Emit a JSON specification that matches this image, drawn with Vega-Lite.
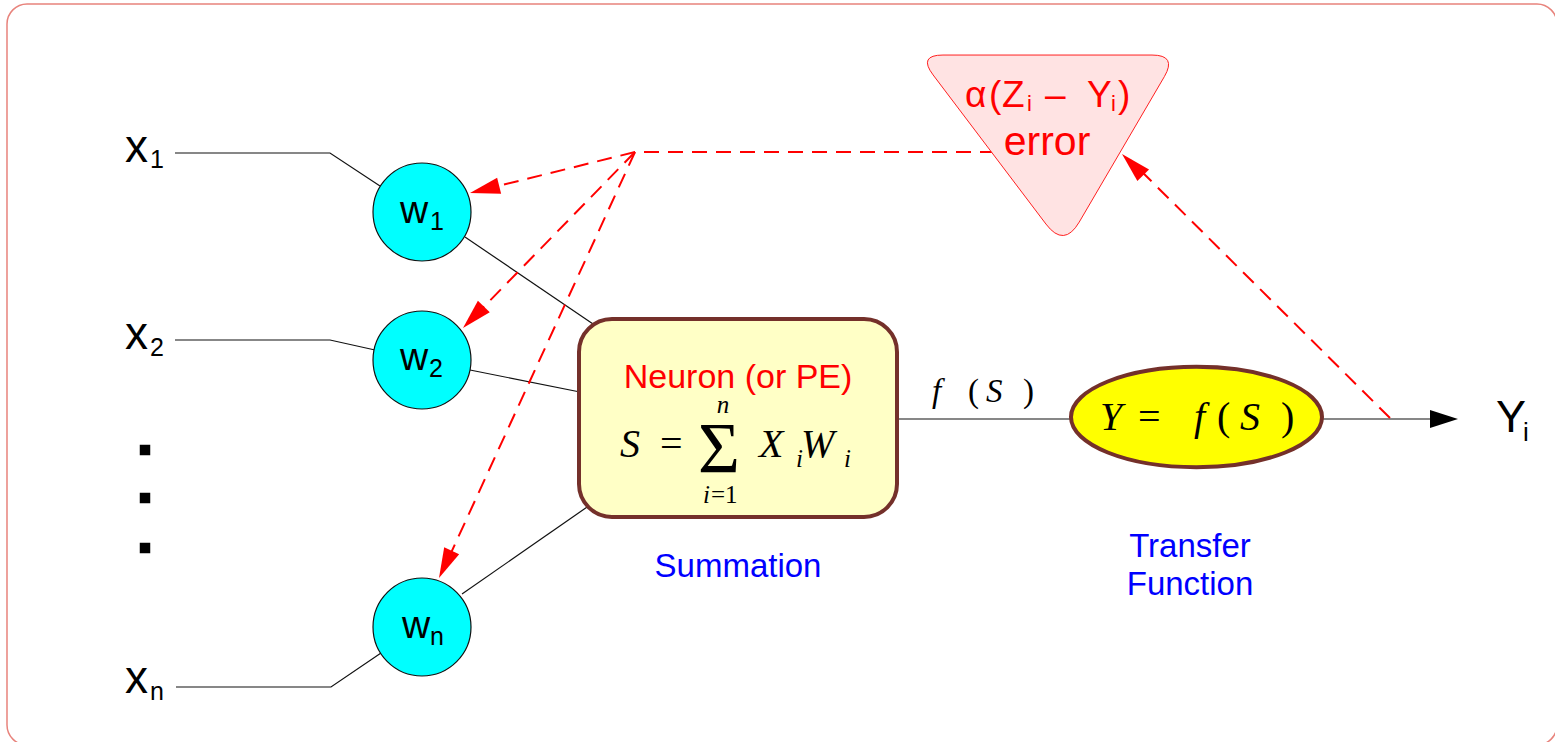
{
  "$schema": "https://vega.github.io/schema/vega-lite/v6.json",
  "width": 1555,
  "height": 742,
  "autosize": "none",
  "padding": 0,
  "background": "white",
  "config": {"view": {"stroke": null}},
  "datasets": {
    "frame": [{"x": 7, "x2": 1557, "y": 4, "y2": 745}],
    "box": [{"x": 579, "x2": 897, "y": 319, "y2": 517}],
    "wires": [
      {"s": "x1", "o": 1, "x": 175, "y": 153}, {"s": "x1", "o": 2, "x": 330, "y": 153}, {"s": "x1", "o": 3, "x": 380, "y": 186},
      {"s": "x2", "o": 1, "x": 175, "y": 340}, {"s": "x2", "o": 2, "x": 330, "y": 340}, {"s": "x2", "o": 3, "x": 375, "y": 350},
      {"s": "xn", "o": 1, "x": 176, "y": 687}, {"s": "xn", "o": 2, "x": 331, "y": 687}, {"s": "xn", "o": 3, "x": 381, "y": 653},
      {"s": "w1", "o": 1, "x": 465, "y": 237}, {"s": "w1", "o": 2, "x": 596, "y": 326},
      {"s": "w2", "o": 1, "x": 470, "y": 370}, {"s": "w2", "o": 2, "x": 580, "y": 392},
      {"s": "wn", "o": 1, "x": 462, "y": 594}, {"s": "wn", "o": 2, "x": 590, "y": 505},
      {"s": "sf", "o": 1, "x": 898, "y": 419}, {"s": "sf", "o": 2, "x": 1072, "y": 419},
      {"s": "out", "o": 1, "x": 1321, "y": 419}, {"s": "out", "o": 2, "x": 1435, "y": 419}
    ],
    "dashes": [
      {"s": "h", "o": 1, "x": 995, "y": 152}, {"s": "h", "o": 2, "x": 635, "y": 152},
      {"s": "a1", "o": 1, "x": 635, "y": 152}, {"s": "a1", "o": 2, "x": 478, "y": 191},
      {"s": "a2", "o": 1, "x": 635, "y": 152}, {"s": "a2", "o": 2, "x": 470, "y": 321},
      {"s": "a3", "o": 1, "x": 635, "y": 152}, {"s": "a3", "o": 2, "x": 445, "y": 566},
      {"s": "e", "o": 1, "x": 1390, "y": 418}, {"s": "e", "o": 2, "x": 1130, "y": 160}
    ],
    "dots": [{"x": 145, "y": 450}, {"x": 145, "y": 498}, {"x": 145, "y": 548}],
    "neurons": [{"n": "w1", "x": 422, "y": 212}, {"n": "w2", "x": 422, "y": 360}, {"n": "wn", "x": 422, "y": 627}],
    "ellipse": [{"x": 1196.5, "y": 417}],
    "triangle": [{"x": 1047.5, "y": 151.5}],
    "tips": [
      {"t": "w1", "x": 470, "y": 193},
      {"t": "w2", "x": 463, "y": 328},
      {"t": "wn", "x": 439, "y": 578},
      {"t": "err", "x": 1122, "y": 154},
      {"t": "out", "x": 1458, "y": 419}
    ],
    "texts": [
      {"g": "sans46", "label": "x", "x": 125, "y": 162},
      {"g": "sans46", "label": "x", "x": 125, "y": 349},
      {"g": "sans46", "label": "x", "x": 125, "y": 693},
      {"g": "sans24", "label": "1", "x": 150, "y": 168},
      {"g": "sans24", "label": "2", "x": 150, "y": 356},
      {"g": "sans24", "label": "n", "x": 150, "y": 700},
      {"g": "w40", "label": "w", "x": 400, "y": 223},
      {"g": "w40", "label": "w", "x": 400, "y": 370},
      {"g": "w40", "label": "w", "x": 402, "y": 638},
      {"g": "wsub", "label": "1", "x": 430, "y": 230},
      {"g": "wsub", "label": "2", "x": 429, "y": 377},
      {"g": "wsub", "label": "n", "x": 430, "y": 645},
      {"g": "Y45", "label": "Y", "x": 1496, "y": 432},
      {"g": "Ysub", "label": "i", "x": 1523, "y": 441},
      {"g": "red34c", "label": "Neuron (or PE)", "x": 738, "y": 388},
      {"g": "blue33c", "label": "Summation", "x": 738, "y": 577},
      {"g": "blue33c", "label": "Transfer", "x": 1190, "y": 557},
      {"g": "blue33c", "label": "Function", "x": 1190, "y": 595},
      {"g": "red41c", "label": "error", "x": 1047, "y": 155},
      {"g": "red34", "label": "α", "x": 965, "y": 107},
      {"g": "red34", "label": "(", "x": 989, "y": 107},
      {"g": "red34", "label": "Z", "x": 1002, "y": 107},
      {"g": "red34", "label": "–", "x": 1045, "y": 107},
      {"g": "red34", "label": "Y", "x": 1087, "y": 107},
      {"g": "red34", "label": ")", "x": 1118, "y": 107},
      {"g": "red18", "label": "i", "x": 1027, "y": 111},
      {"g": "red18", "label": "i", "x": 1111, "y": 111},
      {"g": "serifI40", "label": "S", "x": 620, "y": 457},
      {"g": "serifI40", "label": "X", "x": 759, "y": 457},
      {"g": "serifI40", "label": "W", "x": 801, "y": 457},
      {"g": "serifI40", "label": "Y", "x": 1100, "y": 430},
      {"g": "serifI40", "label": "f", "x": 1194, "y": 430},
      {"g": "serifI40", "label": "S", "x": 1240, "y": 430},
      {"g": "serif40", "label": "=", "x": 660, "y": 457},
      {"g": "serif40", "label": "=", "x": 1138, "y": 430},
      {"g": "serif40", "label": "(", "x": 1217, "y": 430},
      {"g": "serif40", "label": ")", "x": 1281, "y": 430},
      {"g": "sigma", "label": "Σ", "x": 719, "y": 472},
      {"g": "serifI24c", "label": "n", "x": 723, "y": 413},
      {"g": "serifI24", "label": "i", "x": 703, "y": 503},
      {"g": "serif24", "label": "=1", "x": 711, "y": 503},
      {"g": "serifI24", "label": "i", "x": 796, "y": 467},
      {"g": "serifI24", "label": "i", "x": 844, "y": 467},
      {"g": "serifI33", "label": "f", "x": 932, "y": 402},
      {"g": "serifI33", "label": "S", "x": 986, "y": 402},
      {"g": "serif33", "label": "(", "x": 968, "y": 402},
      {"g": "serif33", "label": ")", "x": 1023, "y": 402}
    ]
  },
  "encoding": {
    "x": {"field": "x", "type": "quantitative", "scale": {"domain": [0, 1555], "nice": false, "zero": false}, "axis": null},
    "y": {"field": "y", "type": "quantitative", "scale": {"domain": [0, 742], "nice": false, "zero": false, "reverse": true}, "axis": null}
  },
  "layer": [
    {
      "data": {"name": "frame"},
      "mark": {"type": "rect", "cornerRadius": 20, "filled": false, "stroke": "#e8837c", "strokeWidth": 1.5},
      "encoding": {"x2": {"field": "x2"}, "y2": {"field": "y2"}}
    },
    {
      "data": {"name": "wires"},
      "mark": {"type": "line", "color": "#111111", "strokeWidth": 1.2},
      "encoding": {"detail": {"field": "s"}, "order": {"field": "o", "type": "quantitative"}}
    },
    {
      "data": {"name": "dashes"},
      "mark": {"type": "line", "color": "#ff0000", "strokeWidth": 2, "strokeDash": [15, 9]},
      "encoding": {"detail": {"field": "s"}, "order": {"field": "o", "type": "quantitative"}}
    },
    {
      "data": {"name": "dots"},
      "mark": {"type": "point", "shape": "square", "size": 110, "filled": true, "fill": "black", "stroke": null, "opacity": 1}
    },
    {
      "data": {"name": "neurons"},
      "mark": {"type": "point", "shape": "circle", "size": 9604, "filled": true, "fill": "#00ffff", "stroke": "#111111", "strokeWidth": 1.2, "opacity": 1}
    },
    {
      "data": {"name": "box"},
      "mark": {"type": "rect", "cornerRadius": 33, "fill": "#ffffc6", "stroke": "#74302a", "strokeWidth": 4},
      "encoding": {"x2": {"field": "x2"}, "y2": {"field": "y2"}}
    },
    {
      "data": {"name": "ellipse"},
      "mark": {"type": "point", "shape": "M-1,0C-1,-0.2209,-0.5523,-0.4,0,-0.4C0.5523,-0.4,1,-0.2209,1,0C1,0.2209,0.5523,0.4,0,0.4C-0.5523,0.4,-1,0.2209,-1,0Z", "size": 63001, "filled": true, "fill": "#ffff00", "stroke": "#74302a", "strokeWidth": 4, "opacity": 1}
    },
    {
      "data": {"name": "triangle"},
      "mark": {"type": "point", "shape": "M-0.804,-0.742L0.804,-0.742Q0.996,-0.742,0.899,-0.576L0.244,0.543Q0.127,0.742,-0.012,0.558L-0.880,-0.589Q-0.996,-0.742,-0.804,-0.742Z", "size": 67600, "filled": true, "fill": "#ffe3e3", "stroke": "#ff2020", "strokeWidth": 1, "opacity": 1}
    },
    {
      "data": {"name": "tips"},
      "transform": [{"filter": "datum.t === 'w1'"}],
      "mark": {"type": "point", "shape": "M0,0L-0.55,2L0.55,2Z", "size": 900, "angle": 256, "filled": true, "fill": "#ff0000", "stroke": null, "opacity": 1}
    },
    {
      "data": {"name": "tips"},
      "transform": [{"filter": "datum.t === 'w2'"}],
      "mark": {"type": "point", "shape": "M0,0L-0.55,2L0.55,2Z", "size": 900, "angle": 224, "filled": true, "fill": "#ff0000", "stroke": null, "opacity": 1}
    },
    {
      "data": {"name": "tips"},
      "transform": [{"filter": "datum.t === 'wn'"}],
      "mark": {"type": "point", "shape": "M0,0L-0.55,2L0.55,2Z", "size": 900, "angle": 205, "filled": true, "fill": "#ff0000", "stroke": null, "opacity": 1}
    },
    {
      "data": {"name": "tips"},
      "transform": [{"filter": "datum.t === 'err'"}],
      "mark": {"type": "point", "shape": "M0,0L-0.55,2L0.55,2Z", "size": 900, "angle": 315, "filled": true, "fill": "#ff0000", "stroke": null, "opacity": 1}
    },
    {
      "data": {"name": "tips"},
      "transform": [{"filter": "datum.t === 'out'"}],
      "mark": {"type": "point", "shape": "M0,0L-0.64,2L0.64,2Z", "size": 784, "angle": 90, "filled": true, "fill": "#000000", "stroke": null, "opacity": 1}
    },
    {
      "data": {"name": "texts"},
      "transform": [{"filter": "datum.g === 'sans46'"}],
      "mark": {"type": "text", "font": "Liberation Sans", "fontSize": 46, "align": "left", "baseline": "alphabetic", "color": "#000000"},
      "encoding": {"text": {"field": "label"}}
    },
    {
      "data": {"name": "texts"},
      "transform": [{"filter": "datum.g === 'sans24'"}],
      "mark": {"type": "text", "font": "Liberation Sans", "fontSize": 25, "align": "left", "baseline": "alphabetic", "color": "#000000"},
      "encoding": {"text": {"field": "label"}}
    },
    {
      "data": {"name": "texts"},
      "transform": [{"filter": "datum.g === 'w40'"}],
      "mark": {"type": "text", "font": "Liberation Sans", "fontSize": 39, "align": "left", "baseline": "alphabetic", "color": "#000000"},
      "encoding": {"text": {"field": "label"}}
    },
    {
      "data": {"name": "texts"},
      "transform": [{"filter": "datum.g === 'wsub'"}],
      "mark": {"type": "text", "font": "Liberation Sans", "fontSize": 25, "align": "left", "baseline": "alphabetic", "color": "#000000"},
      "encoding": {"text": {"field": "label"}}
    },
    {
      "data": {"name": "texts"},
      "transform": [{"filter": "datum.g === 'Y45'"}],
      "mark": {"type": "text", "font": "Liberation Sans", "fontSize": 45, "align": "left", "baseline": "alphabetic", "color": "#000000"},
      "encoding": {"text": {"field": "label"}}
    },
    {
      "data": {"name": "texts"},
      "transform": [{"filter": "datum.g === 'Ysub'"}],
      "mark": {"type": "text", "font": "Liberation Sans", "fontSize": 26, "align": "left", "baseline": "alphabetic", "color": "#000000"},
      "encoding": {"text": {"field": "label"}}
    },
    {
      "data": {"name": "texts"},
      "transform": [{"filter": "datum.g === 'red34c'"}],
      "mark": {"type": "text", "font": "Liberation Sans", "fontSize": 34, "align": "center", "baseline": "alphabetic", "color": "#ff0000"},
      "encoding": {"text": {"field": "label"}}
    },
    {
      "data": {"name": "texts"},
      "transform": [{"filter": "datum.g === 'blue33c'"}],
      "mark": {"type": "text", "font": "Liberation Sans", "fontSize": 33, "align": "center", "baseline": "alphabetic", "color": "#0000ff"},
      "encoding": {"text": {"field": "label"}}
    },
    {
      "data": {"name": "texts"},
      "transform": [{"filter": "datum.g === 'red41c'"}],
      "mark": {"type": "text", "font": "Liberation Sans", "fontSize": 41, "align": "center", "baseline": "alphabetic", "color": "#ff0000"},
      "encoding": {"text": {"field": "label"}}
    },
    {
      "data": {"name": "texts"},
      "transform": [{"filter": "datum.g === 'red34'"}],
      "mark": {"type": "text", "font": "Liberation Sans", "fontSize": 37, "align": "left", "baseline": "alphabetic", "color": "#ff0000"},
      "encoding": {"text": {"field": "label"}}
    },
    {
      "data": {"name": "texts"},
      "transform": [{"filter": "datum.g === 'red18'"}],
      "mark": {"type": "text", "font": "Liberation Sans", "fontSize": 22, "align": "left", "baseline": "alphabetic", "color": "#ff0000"},
      "encoding": {"text": {"field": "label"}}
    },
    {
      "data": {"name": "texts"},
      "transform": [{"filter": "datum.g === 'serifI40'"}],
      "mark": {"type": "text", "font": "Liberation Serif", "fontSize": 40, "fontStyle": "italic", "align": "left", "baseline": "alphabetic", "color": "#000000"},
      "encoding": {"text": {"field": "label"}}
    },
    {
      "data": {"name": "texts"},
      "transform": [{"filter": "datum.g === 'serif40'"}],
      "mark": {"type": "text", "font": "Liberation Serif", "fontSize": 40, "align": "left", "baseline": "alphabetic", "color": "#000000"},
      "encoding": {"text": {"field": "label"}}
    },
    {
      "data": {"name": "texts"},
      "transform": [{"filter": "datum.g === 'sigma'"}],
      "mark": {"type": "text", "font": "Liberation Serif", "fontSize": 72, "align": "center", "baseline": "alphabetic", "color": "#000000"},
      "encoding": {"text": {"field": "label"}}
    },
    {
      "data": {"name": "texts"},
      "transform": [{"filter": "datum.g === 'serifI24c'"}],
      "mark": {"type": "text", "font": "Liberation Serif", "fontSize": 25, "fontStyle": "italic", "align": "center", "baseline": "alphabetic", "color": "#000000"},
      "encoding": {"text": {"field": "label"}}
    },
    {
      "data": {"name": "texts"},
      "transform": [{"filter": "datum.g === 'serifI24'"}],
      "mark": {"type": "text", "font": "Liberation Serif", "fontSize": 25, "fontStyle": "italic", "align": "left", "baseline": "alphabetic", "color": "#000000"},
      "encoding": {"text": {"field": "label"}}
    },
    {
      "data": {"name": "texts"},
      "transform": [{"filter": "datum.g === 'serif24'"}],
      "mark": {"type": "text", "font": "Liberation Serif", "fontSize": 25, "align": "left", "baseline": "alphabetic", "color": "#000000"},
      "encoding": {"text": {"field": "label"}}
    },
    {
      "data": {"name": "texts"},
      "transform": [{"filter": "datum.g === 'serifI33'"}],
      "mark": {"type": "text", "font": "Liberation Serif", "fontSize": 33, "fontStyle": "italic", "align": "left", "baseline": "alphabetic", "color": "#000000"},
      "encoding": {"text": {"field": "label"}}
    },
    {
      "data": {"name": "texts"},
      "transform": [{"filter": "datum.g === 'serif33'"}],
      "mark": {"type": "text", "font": "Liberation Serif", "fontSize": 33, "align": "left", "baseline": "alphabetic", "color": "#000000"},
      "encoding": {"text": {"field": "label"}}
    }
  ]
}
